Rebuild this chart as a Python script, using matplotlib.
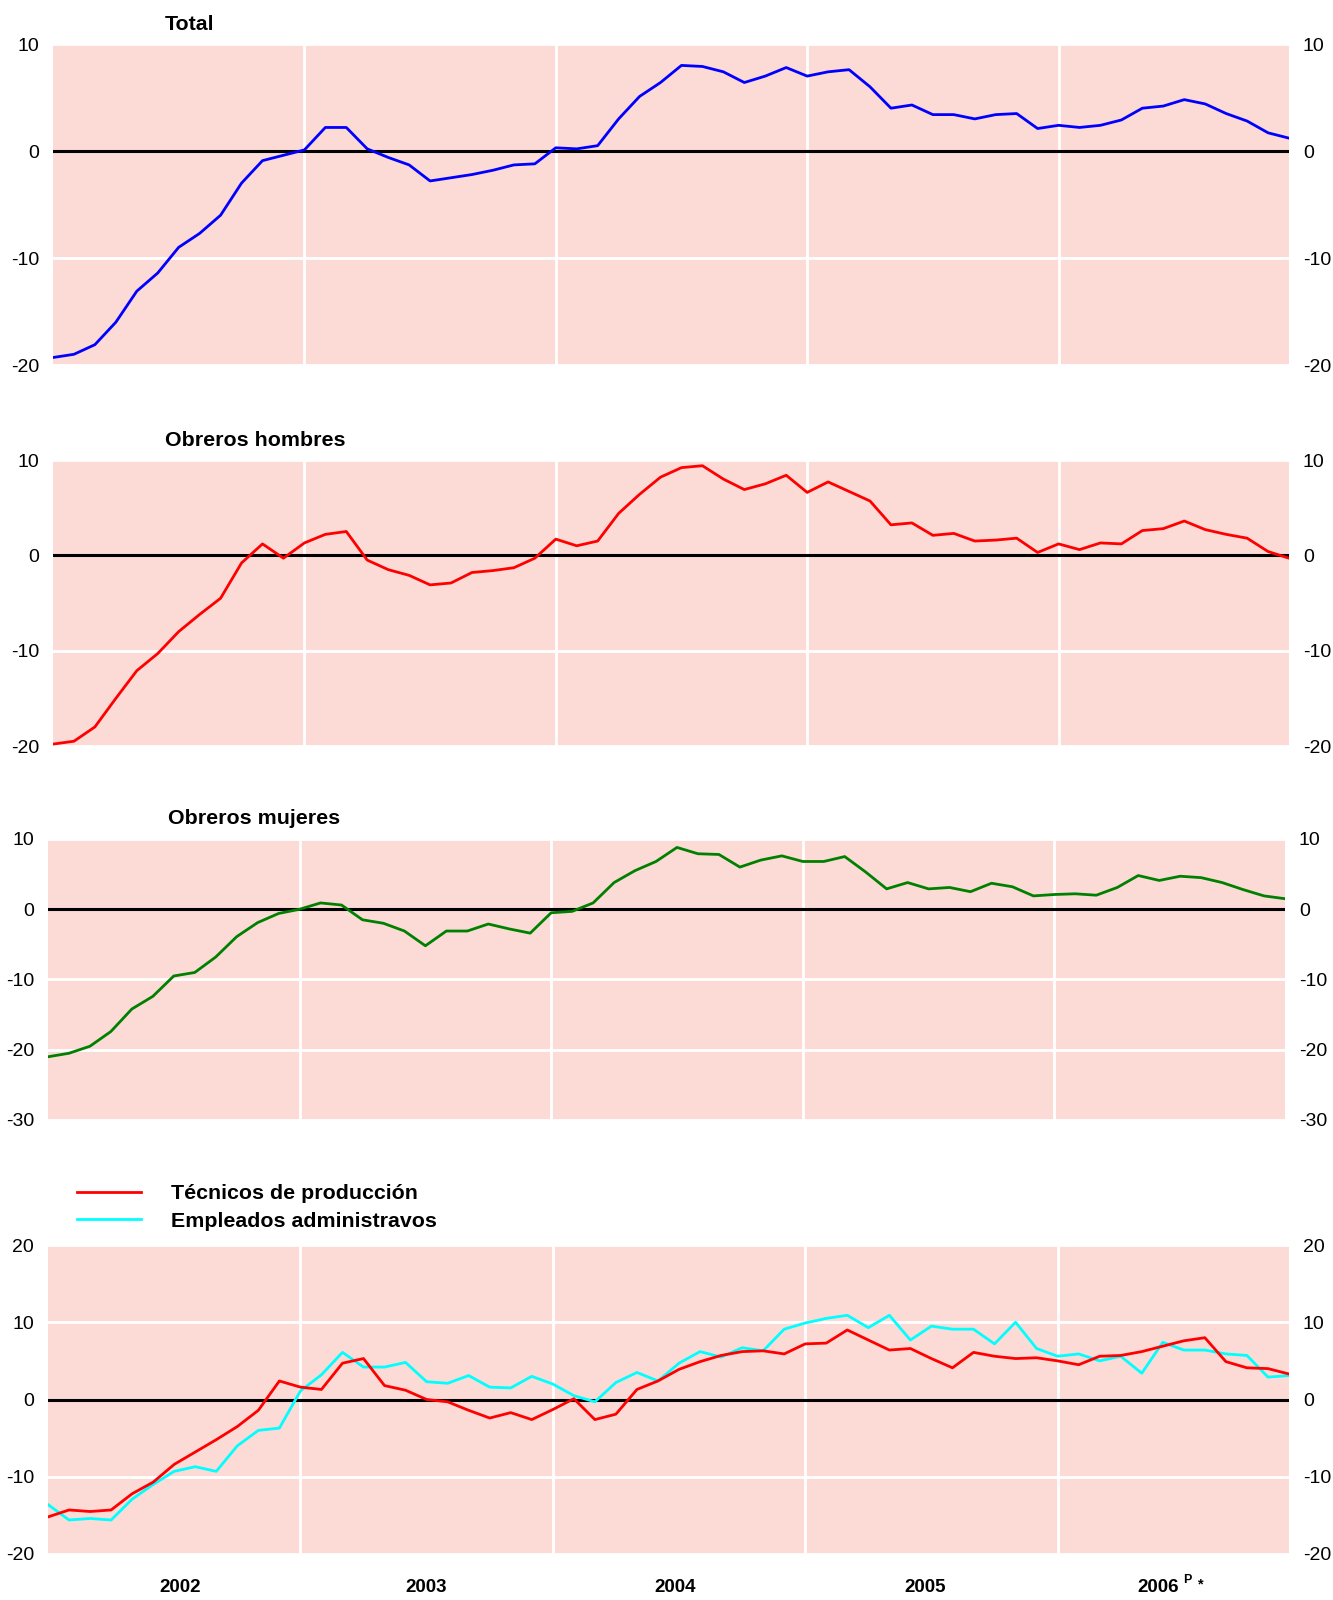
import numpy as np
import matplotlib
matplotlib.use('Agg')
import matplotlib.pyplot as plt

plt.rcParams['font.family'] = ['Liberation Sans', 'DejaVu Sans']

# monthly series, Jan 2002 - Dec 2006
months = np.arange(60)

total = [-19.3, -19.0, -18.1, -16.0, -13.1, -11.4, -9.0, -7.7, -6.0, -3.0, -0.9, -0.4,
         0.1, 2.2, 2.2, 0.2, -0.6, -1.3, -2.8, -2.5, -2.2, -1.8, -1.3, -1.2,
         0.3, 0.2, 0.5, 3.0, 5.1, 6.4, 8.0, 7.9, 7.4, 6.4, 7.0, 7.8,
         7.0, 7.4, 7.6, 6.0, 4.0, 4.3, 3.4, 3.4, 3.0, 3.4, 3.5, 2.1,
         2.4, 2.2, 2.4, 2.9, 4.0, 4.2, 4.8, 4.4, 3.5, 2.8, 1.7, 1.2]

obreros_hombres = [-19.8, -19.5, -18.0, -15.0, -12.1, -10.3, -8.0, -6.2, -4.5, -0.8, 1.2, -0.3,
                   1.3, 2.2, 2.5, -0.5, -1.5, -2.1, -3.1, -2.9, -1.8, -1.6, -1.3, -0.3,
                   1.7, 1.0, 1.5, 4.4, 6.4, 8.2, 9.2, 9.4, 8.0, 6.9, 7.5, 8.4,
                   6.6, 7.7, 6.7, 5.7, 3.2, 3.4, 2.1, 2.3, 1.5, 1.6, 1.8, 0.3,
                   1.2, 0.6, 1.3, 1.2, 2.6, 2.8, 3.6, 2.7, 2.2, 1.8, 0.4, -0.3]

obreros_mujeres = [-21.0, -20.5, -19.5, -17.4, -14.2, -12.4, -9.5, -9.0, -6.8, -3.9, -1.9, -0.6,
                   0.0, 0.9, 0.6, -1.5, -2.0, -3.1, -5.2, -3.1, -3.1, -2.1, -2.8, -3.4,
                   -0.5, -0.3, 0.9, 3.8, 5.5, 6.8, 8.8, 7.9, 7.8, 6.0, 7.0, 7.6,
                   6.8, 6.8, 7.5, 5.3, 2.9, 3.8, 2.9, 3.1, 2.5, 3.7, 3.2, 1.9,
                   2.1, 2.2, 2.0, 3.1, 4.8, 4.1, 4.7, 4.5, 3.8, 2.8, 1.9, 1.5]

tecnicos = [-15.2, -14.3, -14.5, -14.3, -12.2, -10.7, -8.4, -6.8, -5.2, -3.5, -1.4, 2.4,
            1.6, 1.3, 4.7, 5.3, 1.8, 1.2, 0.0, -0.3, -1.4, -2.4, -1.7, -2.6,
            -1.3, 0.1, -2.6, -1.9, 1.3, 2.4, 3.9, 4.9, 5.7, 6.2, 6.3, 5.9,
            7.2, 7.3, 9.0, 7.7, 6.4, 6.6, 5.3, 4.1, 6.1, 5.6, 5.3, 5.4,
            5.0, 4.5, 5.6, 5.7, 6.2, 6.9, 7.6, 8.0, 4.9, 4.1, 4.0, 3.3]

empleados = [-13.6, -15.6, -15.4, -15.6, -12.9, -11.0, -9.3, -8.7, -9.3, -6.0, -4.0, -3.7,
             1.1, 3.2, 6.1, 4.2, 4.2, 4.8, 2.3, 2.1, 3.1, 1.6, 1.5, 3.0,
             2.0, 0.5, -0.3, 2.2, 3.5, 2.4, 4.7, 6.2, 5.5, 6.7, 6.3, 9.1,
             9.9, 10.5, 10.9, 9.3, 10.9, 7.7, 9.5, 9.1, 9.1, 7.2, 10.0, 6.6,
             5.6, 5.9, 5.0, 5.6, 3.4, 7.4, 6.4, 6.4, 5.9, 5.7, 2.9, 3.1]

years = ['2002', '2003', '2004', '2005', '2006']
year_label_pos = [6.3, 18.0, 29.8, 41.7, 52.8]
year_starts = [12, 24, 36, 48]

bg = '#fcdbd6'
W, H = 1333, 1600

fig = plt.figure(figsize=(W / 100, H / 100), dpi=100)


def make_ax(left, top, right, bottom, yticks, title=None, title_x=None):
    ax = fig.add_axes([left / W, 1 - bottom / H, (right - left) / W, (bottom - top) / H])
    ax.set_facecolor(bg)
    ax.set_xlim(0, 59)
    ax.set_ylim(yticks[0], yticks[-1])
    ax.set_yticks(yticks)
    ax.set_yticklabels([str(t) for t in yticks])
    ax.set_xticks(year_starts)
    ax.set_xticklabels([])
    ax.tick_params(axis='both', length=0, labelsize=14, pad=10)
    ax.tick_params(axis='y', labelright=True, labelleft=True)
    ax.grid(True, color='white', lw=2)
    ax.set_axisbelow(True)
    for s in ax.spines.values():
        s.set_visible(False)
    ax.axhline(0, color='black', lw=2.2, zorder=2)
    if title:
        fig.text(title_x / W, 1 - top / H + 20 / H, title, fontsize=15.4,
                 fontweight='bold', ha='left', va='center')
    return ax


ax1 = make_ax(53, 44, 1289, 365, [-20, -10, 0, 10], 'Total', 165)
ax1.plot(months, total, color='#0000ff', lw=2, zorder=3)

ax2 = make_ax(53, 460, 1289, 746, [-20, -10, 0, 10], 'Obreros hombres', 165)
ax2.plot(months, obreros_hombres, color='#ff0000', lw=2, zorder=3)

ax3 = make_ax(48, 839, 1285, 1120, [-30, -20, -10, 0, 10], 'Obreros mujeres', 168)
ax3.plot(months, obreros_mujeres, color='#008000', lw=2, zorder=3)

ax4 = make_ax(48, 1245, 1289, 1554, [-20, -10, 0, 10, 20])
ax4.plot(months, tecnicos, color='#ff0000', lw=2, zorder=4, label='Técnicos de producción')
ax4.plot(months, empleados, color='#00ffff', lw=2, zorder=3, label='Empleados administravos')

handles, labels = ax4.get_legend_handles_labels()
fig.legend(handles, labels, loc='upper left', bbox_to_anchor=(77 / W, 1 - 1184 / H),
           frameon=False, borderpad=0, borderaxespad=0, handlelength=3.0,
           handletextpad=1.4, labelspacing=0.4, prop={'weight': 'bold', 'size': 15.4})

# year labels under the last panel
trans = ax4.get_xaxis_transform()
for xc, yr in zip(year_label_pos, years):
    ax4.text(xc, -0.107, yr, transform=trans, ha='center', va='center',
             fontsize=13.5, fontweight='bold')
ax4.text(54.15, -0.083, 'P', transform=trans, ha='center', va='center',
         fontsize=9, fontweight='bold')
ax4.text(54.8, -0.098, '*', transform=trans, ha='center', va='center',
         fontsize=10.5, fontweight='bold')

fig.savefig('out.png', dpi=100)
